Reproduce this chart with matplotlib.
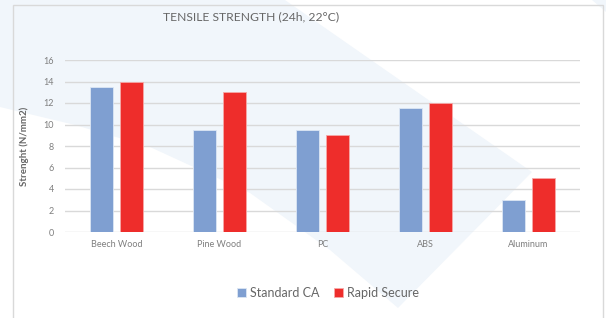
import numpy as np
import matplotlib
matplotlib.use("Agg")
import matplotlib.pyplot as plt
from matplotlib.patches import Polygon, Rectangle

# data
categories = ["Beech Wood", "Pine Wood", "PC", "ABS", "Aluminum"]
standard_ca = [13.5, 9.5, 9.5, 11.5, 3]
rapid_secure = [14, 13, 9, 12, 5]
yticks = [0, 2, 4, 6, 8, 10, 12, 14, 16]

plt.rcParams['font.family'] = ['Lato', 'DejaVu Sans']

W, H = 606, 318
fig = plt.figure(figsize=(W / 100, H / 100), dpi=100)
fig.patch.set_facecolor('white')


def px(pts):
    # pixel coords (origin top-left) -> figure fraction
    return [(x / W, 1 - y / H) for x, y in pts]


# light decorative background shapes
bg = '#f1f6fb'
shape = [(0, 0), (285, 0), (532, 172), (398, 308), (330, 250), (250, 193),
         (150, 147), (75, 125), (0, 107)]
fig.add_artist(Polygon(px(shape), closed=True, transform=fig.transFigure,
                       facecolor=bg, edgecolor='none', zorder=0))
fig.add_artist(Polygon(px([(592, 0), (606, 0), (606, 12)]), closed=True,
                       transform=fig.transFigure, facecolor=bg,
                       edgecolor='none', zorder=0))

# chart box outline
fig.add_artist(Rectangle((13 / W, -0.05), (603 - 13) / W, 1 - 5 / H + 0.05,
                         transform=fig.transFigure, facecolor='none',
                         edgecolor='#d9d9d9', linewidth=1, zorder=1))

ax = fig.add_axes([65 / W, 1 - 232 / H, (580 - 65) / W, (232 - 60) / H])
ax.patch.set_alpha(0)

x = np.arange(len(categories))
bw = 0.225
off = 0.142
ax.bar(x - off, standard_ca, bw, color='#7f9fd1', edgecolor='#dce6f4',
       linewidth=0.6, zorder=3, label='Standard CA')
ax.bar(x + off, rapid_secure, bw, color='#ee2d2b', edgecolor='#f6a9a8',
       linewidth=0.6, zorder=3, label='Rapid Secure')

ax.set_xlim(-0.5, len(categories) - 0.5)
ax.set_ylim(0, 16)
ax.set_yticks(yticks)
ax.yaxis.grid(True, color='#d9d9d9', linewidth=1)
ax.set_axisbelow(True)
for s in ax.spines.values():
    s.set_visible(False)
ax.tick_params(axis='both', length=0, labelsize=6.5, colors='#7f7f7f')
ax.tick_params(axis='y', pad=8)
ax.tick_params(axis='x', pad=6)
ax.set_xticks(x)
ax.set_xticklabels(categories)

ax.set_ylabel('Strenght (N/mm2)', fontsize=7, fontweight='bold',
              color='#666666', labelpad=10)

fig.text(251 / W, 1 - 17 / H, 'TENSILE STRENGTH (24h, 22°C)', ha='center',
         va='center', fontsize=8.7, color='#666666')

fig.legend(loc='center', bbox_to_anchor=(328 / W, 1 - 293 / H), ncol=2,
           frameon=False, fontsize=9, handlelength=0.7, handleheight=0.7,
           handletextpad=0.3, columnspacing=1.2, labelcolor='#666666')

fig.savefig('out.png', dpi=100, facecolor='white')
